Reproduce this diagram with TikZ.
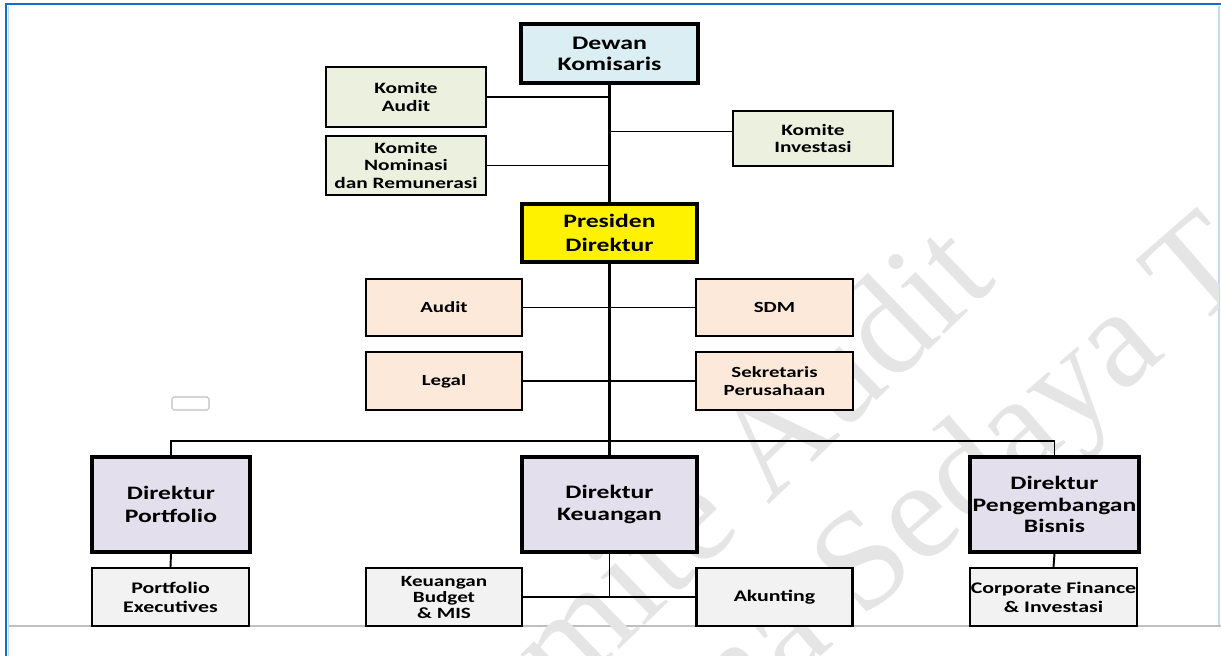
\documentclass[tikz,border=0pt]{standalone}
\usepackage{fontspec}
\setmainfont{Carlito}[FakeStretch=1.35]
\newfontfamily\wmfont{Liberation Serif}
\definecolor{frameblue}{HTML}{0F6FC6}
\definecolor{framelight}{HTML}{C5D9F1}
\definecolor{dewanfill}{HTML}{DBEEF4}
\definecolor{komitefill}{HTML}{EBF1DE}
\definecolor{unitfill}{HTML}{FDE9D9}
\definecolor{dirfill}{HTML}{E4DFEC}
\definecolor{subfill}{HTML}{F2F2F2}
\tikzset{
  box/.style={draw=black, align=center, inner sep=1pt, font=\bfseries},
  topbox/.style={box, line width=1.8pt},
  komite/.style={box, fill=komitefill, line width=1.5pt, minimum width=3.2cm,
    font=\fontsize{9}{9.8}\selectfont\bfseries},
  unit/.style={box, fill=unitfill, line width=1.2pt, minimum width=3.13cm, minimum height=1.15cm,
    font=\fontsize{8.8}{10.2}\selectfont\bfseries},
  direktur/.style={topbox, fill=dirfill, minimum height=1.9cm,
    font=\fontsize{10.8}{13}\selectfont\bfseries},
  sub/.style={box, fill=subfill, line width=1.2pt, minimum height=1.16cm,
    font=\fontsize{9.2}{10.8}\selectfont\bfseries},
  link/.style={line width=1.1pt},
  wmark/.style={text=black!10, font=\wmfont\fontsize{80}{80}\selectfont},
}

\begin{document}
\begin{tikzpicture}[x=0.02cm,y=-0.02cm]
  \useasboundingbox (0,0) rectangle (1221,656);
  % frame of the page
  \fill[white] (0,0) rectangle (1221,656);
  \draw[framelight,line width=0.6pt] (8.5,6) -- (8.5,656);
  \draw[framelight,line width=0.8pt] (1219,6) -- (1219,626);
  \draw[black!25,line width=0.8pt] (9,626) -- (1221,626);
  \draw[frameblue,line width=1.3pt] (5,4) -- (1221,4);
  \draw[frameblue,line width=1.3pt] (6,4) -- (6,656);
  \draw[black!25,line width=0.6pt,rounded corners=1pt] (172,397) rectangle (209,410);

  % watermark
  \begin{scope}
    \clip (9,6) rectangle (1218,656);
    \node[wmark,rotate=44] (wmaudit) at (686,518) {Komite Audit};
    \node[wmark,rotate=41] (wmtama) at (908,536) {Tama Sedaya T};
  \end{scope}

  % dewan komisaris dan komite
  \node[topbox,fill=dewanfill,minimum width=3.54cm,minimum height=1.18cm,
    font=\fontsize{10.9}{11.9}\selectfont\bfseries] (dewan) at (609.5,53.5) {Dewan\\Komisaris};
  \node[komite,minimum height=1.2cm] (kaudit) at (406,97) {Komite\\Audit};
  \node[komite,minimum height=1.18cm] (knominasi) at (406,165.5) {Komite\\Nominasi\\dan Remunerasi};
  \node[komite,minimum height=1.1cm] (kinvest) at (813,138.5) {Komite\\Investasi};

  % presiden direktur dan unit
  \node[topbox,fill=yellow,minimum width=3.5cm,minimum height=1.16cm,
    font=\fontsize{10.8}{13.4}\selectfont\bfseries] (presdir) at (609.5,233) {Presiden\\Direktur};
  \node[unit] (audit) at (444,307.5) {Audit};
  \node[unit] (sdm) at (774.5,307.5) {SDM};
  \node[unit] (legal) at (444,381) {Legal};
  \node[unit] (sekper) at (774.5,381) {Sekretaris\\Perusahaan};

  % direktur
  \node[direktur,minimum width=3.16cm] (dirport) at (171,504.5) {Direktur\\Portfolio};
  \node[direktur,minimum width=3.5cm] (dirkeu) at (609.5,504.5) {Direktur\\Keuangan};
  \node[direktur,minimum width=3.38cm,font=\fontsize{10.8}{12.3}\selectfont\bfseries]
    (dirbis) at (1054.5,504.5) {Direktur\\Pengembangan\\Bisnis};

  % bawah direktur
  \node[sub,minimum width=3.14cm] (portexec) at (170.5,597) {Portfolio\\Executives};
  \node[sub,minimum width=3.12cm,font=\fontsize{8.9}{9.1}\selectfont\bfseries]
    (keubudget) at (444,597) {Keuangan\\Budget\\\& MIS};
  \node[sub,minimum width=3.12cm] (akunting) at (774.5,597) {Akunting};
  \node[sub,minimum width=3.34cm,inner sep=0pt] (corpfin) at (1053.5,597) {Corporate Finance\\\& Investasi};

  % garis
  \draw[line width=1.4pt] (dewan.south) -- (presdir.north);
  \draw[line width=1.4pt] (presdir.south) -- (dirkeu.north);
  \draw[link] (kaudit.east) -- (kaudit.east -| dewan.south);
  \draw[link] (knominasi.east) -- (knominasi.east -| dewan.south);
  \draw[link] ([yshift=4pt]kinvest.west) -- ([yshift=4pt]kinvest.west -| dewan.south);
  \draw[link] (audit.east) -- (sdm.west);
  \draw[link] (legal.east) -- (sekper.west);
  \coordinate (bus) at (609,441);
  \draw[line width=0.9pt] (dirport.north) |- (dirbis.north |- bus) -- (dirbis.north);
  \draw[link] (dirport.south) -- (portexec.north);
  \draw[link] (dirbis.south) -- (corpfin.north);
  \draw[link] (dirkeu.south) -- (dirkeu.south |- keubudget.east);
  \draw[link] (keubudget.east) -- (akunting.west);
\end{tikzpicture}
\end{document}
